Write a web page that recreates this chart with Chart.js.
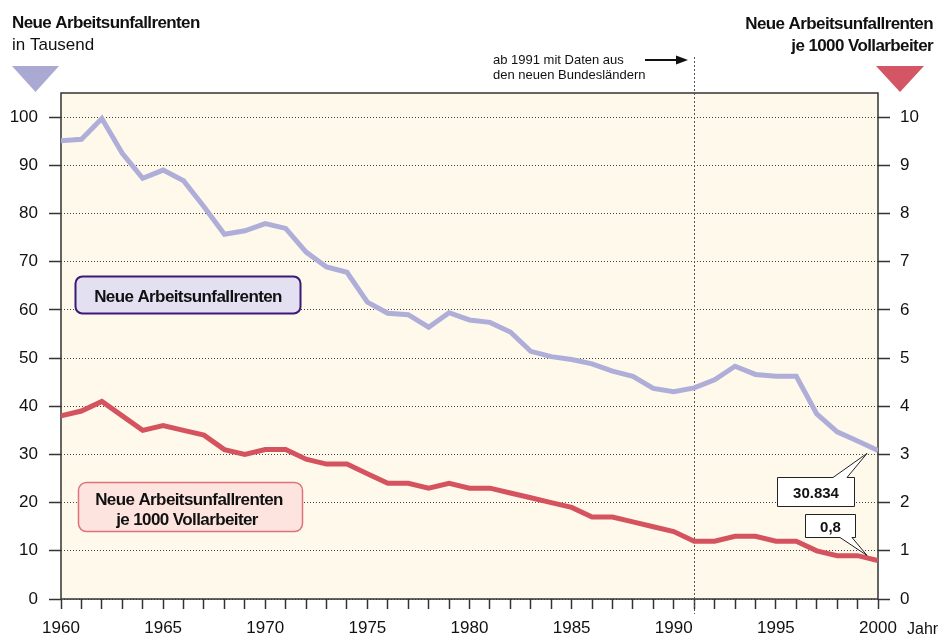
<!DOCTYPE html>
<html>
<head>
<meta charset="utf-8">
<script src="https://cdn.jsdelivr.net/npm/chart.js@4.4.1/dist/chart.umd.min.js"></script>
<style>
  html, body { margin: 0; padding: 0; background: #fff; }
  #wrap { position: relative; width: 949px; height: 637px; }
</style>
</head>
<body>
<div id="wrap"><canvas id="myChart"></canvas></div>
<script>
// Jahre 1960 - 2000
const years = [1960, 1961, 1962, 1963, 1964, 1965, 1966, 1967, 1968, 1969,
  1970, 1971, 1972, 1973, 1974, 1975, 1976, 1977, 1978, 1979,
  1980, 1981, 1982, 1983, 1984, 1985, 1986, 1987, 1988, 1989,
  1990, 1991, 1992, 1993, 1994, 1995, 1996, 1997, 1998, 1999, 2000];

// Neue Arbeitsunfallrenten in Tausend (linke Achse)
const neueRenten = [95.1, 95.4, 99.7, 92.5, 87.3, 89.0, 86.8, 81.4, 75.7, 76.4,
  77.9, 76.9, 72.0, 68.9, 67.8, 61.6, 59.3, 59.0, 56.4, 59.4,
  57.9, 57.4, 55.4, 51.4, 50.3, 49.7, 48.8, 47.3, 46.2, 43.7,
  43.0, 43.8, 45.5, 48.3, 46.6, 46.2, 46.2, 38.4, 34.7, 32.8, 30.834];

// Neue Arbeitsunfallrenten je 1000 Vollarbeiter (rechte Achse)
const rentenJe1000 = [3.8, 3.9, 4.1, 3.8, 3.5, 3.6, 3.5, 3.4, 3.1, 3.0,
  3.1, 3.1, 2.9, 2.8, 2.8, 2.6, 2.4, 2.4, 2.3, 2.4,
  2.3, 2.3, 2.2, 2.1, 2.0, 1.9, 1.7, 1.7, 1.6, 1.5,
  1.4, 1.2, 1.2, 1.3, 1.3, 1.2, 1.2, 1.0, 0.9, 0.9, 0.8];

const leftTicks = [0, 10, 20, 30, 40, 50, 60, 70, 80, 90, 100];
const rightTicks = [0, 1, 2, 3, 4, 5, 6, 7, 8, 9, 10];
const yearLabels = [1960, 1965, 1970, 1975, 1980, 1985, 1990, 1995, 2000];
const markYear = 1991;

const FONT = "'Liberation Sans', Arial, sans-serif";
const BLUE = "#afaed8";
const RED = "#d5535f";

// deutsche Zahlenformate
function fmtThousands(v) {
  return String(Math.round(v * 1000)).replace(/\B(?=(\d{3})+(?!\d))/g, ".");
}
function fmtComma(v) {
  return String(v).replace(".", ",");
}

function roundRect(ctx, x, y, w, h, r) {
  ctx.beginPath();
  ctx.moveTo(x + r, y);
  ctx.arcTo(x + w, y, x + w, y + h, r);
  ctx.arcTo(x + w, y + h, x, y + h, r);
  ctx.arcTo(x, y + h, x, y, r);
  ctx.arcTo(x, y, x + w, y, r);
  ctx.closePath();
}

function triangle(ctx, x1, x2, yTop, yTip, color) {
  ctx.fillStyle = color;
  ctx.beginPath();
  ctx.moveTo(x1, yTop);
  ctx.lineTo(x2, yTop);
  ctx.lineTo((x1 + x2) / 2, yTip);
  ctx.closePath();
  ctx.fill();
}

// Wertkasten mit Zeiger
function callout(ctx, bx, by, bw, bh, b1, b2, tx, ty, text) {
  ctx.beginPath();
  if (ty < by) {
    ctx.moveTo(bx, by);
    ctx.lineTo(b1, by);
    ctx.lineTo(tx, ty);
    ctx.lineTo(b2, by);
    ctx.lineTo(bx + bw, by);
    ctx.lineTo(bx + bw, by + bh);
    ctx.lineTo(bx, by + bh);
  } else {
    ctx.moveTo(bx, by);
    ctx.lineTo(bx + bw, by);
    ctx.lineTo(bx + bw, by + bh);
    ctx.lineTo(b2, by + bh);
    ctx.lineTo(tx, ty);
    ctx.lineTo(b1, by + bh);
    ctx.lineTo(bx, by + bh);
  }
  ctx.closePath();
  ctx.fillStyle = "#fff";
  ctx.fill();
  ctx.strokeStyle = "#222";
  ctx.lineWidth = 1;
  ctx.stroke();
  ctx.fillStyle = "#111";
  ctx.font = "bold 15px " + FONT;
  ctx.textAlign = "center";
  ctx.textBaseline = "alphabetic";
  ctx.fillText(text, bx + bw / 2, by + bh / 2 + 5.5);
}

const extras = {
  id: "extras",
  beforeDraw(chart) {
    const { ctx, chartArea: a } = chart;
    ctx.save();
    ctx.fillStyle = "#fff";
    ctx.fillRect(0, 0, chart.width, chart.height);
    ctx.fillStyle = "#fef9eb";
    ctx.fillRect(a.left, a.top, a.right - a.left, a.bottom - a.top);
    ctx.restore();
  },
  beforeDatasetsDraw(chart) {
    const { ctx, chartArea: a } = chart;
    const xs = chart.scales.x;
    ctx.save();
    // Rahmen
    ctx.strokeStyle = "#333";
    ctx.lineWidth = 1.5;
    ctx.strokeRect(a.left, a.top, a.right - a.left, a.bottom - a.top);
    // senkrechte Linie 1991
    const mx = Math.round(xs.getPixelForValue(markYear)) + 0.5;
    ctx.strokeStyle = "#555";
    ctx.lineWidth = 1;
    ctx.setLineDash([2, 2]);
    ctx.beginPath();
    ctx.moveTo(mx, 57);
    ctx.lineTo(mx, 614);
    ctx.stroke();
    ctx.restore();
  },
  afterDatasetsDraw(chart) {
    const { ctx } = chart;
    const xs = chart.scales.x, y = chart.scales.y, y1 = chart.scales.y1;
    ctx.save();
    ctx.textBaseline = "alphabetic";

    // Titel links
    ctx.fillStyle = "#111";
    ctx.letterSpacing = "-0.6px";
    ctx.font = "bold 17px " + FONT;
    ctx.textAlign = "left";
    ctx.fillText("Neue Arbeitsunfallrenten", 12, 28);
    ctx.letterSpacing = "0px";
    ctx.font = "17px " + FONT;
    ctx.fillText("in Tausend", 12, 50);

    // Titel rechts
    ctx.letterSpacing = "-0.6px";
    ctx.font = "bold 17px " + FONT;
    ctx.textAlign = "right";
    ctx.fillText("Neue Arbeitsunfallrenten", 933, 29);
    ctx.fillText("je 1000 Vollarbeiter", 933, 51);
    ctx.letterSpacing = "0px";

    triangle(ctx, 12, 59, 66, 92, "#aaa9d3");
    triangle(ctx, 876, 924, 66, 92, "#d45563");

    // Hinweis 1991
    ctx.font = "13px " + FONT;
    ctx.textAlign = "left";
    ctx.fillStyle = "#111";
    ctx.fillText("ab 1991 mit Daten aus", 493, 64);
    ctx.fillText("den neuen Bundesländern", 493, 79);
    ctx.strokeStyle = "#111";
    ctx.lineWidth = 2;
    ctx.beginPath();
    ctx.moveTo(645, 60);
    ctx.lineTo(679, 60);
    ctx.stroke();
    ctx.beginPath();
    ctx.moveTo(688, 60);
    ctx.lineTo(676, 55.5);
    ctx.lineTo(676, 64.5);
    ctx.closePath();
    ctx.fill();

    // Legendenkästen
    roundRect(ctx, 75.5, 276.5, 225, 37, 7);
    ctx.fillStyle = "#e3e0f1";
    ctx.fill();
    ctx.strokeStyle = "#3c1877";
    ctx.lineWidth = 2;
    ctx.stroke();
    ctx.fillStyle = "#111";
    ctx.letterSpacing = "-0.6px";
    ctx.font = "bold 17px " + FONT;
    ctx.textAlign = "center";
    ctx.fillText("Neue Arbeitsunfallrenten", 188, 302);

    roundRect(ctx, 78.5, 482.5, 224, 49, 8);
    ctx.fillStyle = "#fde4df";
    ctx.fill();
    ctx.strokeStyle = "#e0707a";
    ctx.lineWidth = 1.5;
    ctx.stroke();
    ctx.fillStyle = "#111";
    ctx.fillText("Neue Arbeitsunfallrenten", 189, 505);
    ctx.fillText("je 1000 Vollarbeiter", 187, 525);
    ctx.letterSpacing = "0px";

    // Endwerte
    const last = years.length - 1;
    const ex = xs.getPixelForValue(years[last]);
    const by = y.getPixelForValue(neueRenten[last]);
    const ry = y1.getPixelForValue(rentenJe1000[last]);
    callout(ctx, 777.5, 477.5, 77, 29, 833, 847, ex - 11, by + 3, fmtThousands(neueRenten[last]));
    callout(ctx, 805.5, 514.5, 50, 23, 840, 852, ex - 11, ry - 5, fmtComma(rentenJe1000[last]));

    // Achsenbeschriftung Jahr
    ctx.font = "16px " + FONT;
    ctx.textAlign = "left";
    ctx.fillStyle = "#111";
    ctx.fillText("Jahr", 907, 634);
    ctx.restore();
  }
};

const tickFont = { family: FONT, size: 17 };

new Chart(document.getElementById("myChart"), {
  type: "line",
  data: {
    datasets: [
      {
        label: "Neue Arbeitsunfallrenten",
        data: years.map((yr, i) => ({ x: yr, y: neueRenten[i] })),
        borderColor: BLUE,
        borderWidth: 5,
        pointRadius: 0,
        tension: 0,
        yAxisID: "y",
        borderJoinStyle: "miter",
      },
      {
        label: "Neue Arbeitsunfallrenten je 1000 Vollarbeiter",
        data: years.map((yr, i) => ({ x: yr, y: rentenJe1000[i] })),
        borderColor: RED,
        borderWidth: 5,
        pointRadius: 0,
        tension: 0,
        yAxisID: "y1",
        borderJoinStyle: "miter",
      },
    ],
  },
  options: {
    responsive: true,
    maintainAspectRatio: false,
    animation: false,
    layout: { padding: { top: 93, left: 0, right: 0, bottom: 0 } },
    plugins: { legend: { display: false }, tooltip: { enabled: false } },
    scales: {
      x: {
        type: "linear",
        min: years[0],
        max: years[years.length - 1],
        afterBuildTicks: (s) => { s.ticks = years.map((v) => ({ value: v })); },
        afterFit: (s) => { s.height = 38; },
        grid: { drawOnChartArea: false, tickLength: 10, tickColor: "#333", tickWidth: 1.5 },
        border: { display: false },
        ticks: {
          autoSkip: false,
          maxRotation: 0,
          padding: 9,
          color: "#111",
          font: tickFont,
          callback: (v) => (yearLabels.includes(v) ? String(v) : ""),
        },
      },
      y: {
        position: "left",
        min: 0,
        max: 105,
        afterBuildTicks: (s) => { s.ticks = leftTicks.map((v) => ({ value: v })); },
        afterFit: (s) => { s.width = 61; },
        grid: { color: "#444", lineWidth: 1, tickLength: 12, tickColor: "#333", tickWidth: 1.5 },
        border: { display: false, dash: [1, 2] },
        ticks: { padding: 11, color: "#111", font: tickFont },
      },
      y1: {
        position: "right",
        min: 0,
        max: 10.5,
        afterBuildTicks: (s) => { s.ticks = rightTicks.map((v) => ({ value: v })); },
        afterFit: (s) => { s.width = 71; },
        grid: { drawOnChartArea: false, tickLength: 12, tickColor: "#333", tickWidth: 1.5 },
        border: { display: false },
        ticks: { padding: 10, color: "#111", font: tickFont },
      },
    },
  },
  plugins: [extras],
});
</script>
</body>
</html>
